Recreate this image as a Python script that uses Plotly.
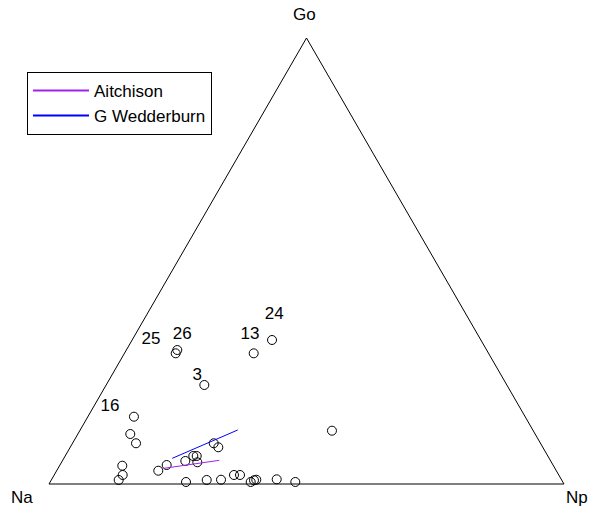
import plotly.graph_objects as go

# Compositions (Go, Na, Np)
go_vals = [0.3229, 0.2930, 0.3004, 0.2930, 0.2220, 0.1509, 0.1121, 0.0913, 0.0913, 0.0823,
           0.0628, 0.0628, 0.0487, 0.0516, 0.0426, 0.0298, 0.0410, 0.0202, 0.0090, 0.0045,
           0.0090, 0.0096, 0.0202, 0.0202, 0.0045, 0.0083, 0.0096, 0.0105, 0.0045, 0.1195]
np_vals = [0.2716, 0.2510, 0.0989, 0.0995, 0.1906, 0.0895, 0.1018, 0.1233, 0.2742, 0.2876,
           0.2488, 0.2554, 0.2637, 0.2389, 0.2072, 0.1973, 0.1218, 0.1330, 0.1308, 0.2638,
           0.3017, 0.3292, 0.3491, 0.3608, 0.3894, 0.3939, 0.3977, 0.4369, 0.4760, 0.4897]
na_vals = [round(1 - g - n, 4) for g, n in zip(go_vals, np_vals)]

# Point labels
label_text = ["24", "13", "26", "25", "3", "16"]
label_go = [0.3789, 0.3341, 0.3341, 0.3229, 0.2422, 0.1733]
label_np = [0.2480, 0.2233, 0.0918, 0.0367, 0.1669, 0.0318]
label_na = [round(1 - g - n, 4) for g, n in zip(label_go, label_np)]

# Fitted lines
aitchison_go = [0.0352, 0.0531]
aitchison_np = [0.2057, 0.3041]
aitchison_na = [round(1 - g - n, 4) for g, n in zip(aitchison_go, aitchison_np)]

wedd_go = [0.0576, 0.1211]
wedd_np = [0.2106, 0.3059]
wedd_na = [round(1 - g - n, 4) for g, n in zip(wedd_go, wedd_np)]

series_names = ["Aitchison", "G Wedderburn"]
series_colors = ["#A020F0", "#0000FF"]

FONT = "Liberation Sans, Arial, sans-serif"
FS = 17

fig = go.Figure()
fig.add_trace(go.Scatterternary(
    a=go_vals, b=na_vals, c=np_vals, mode="markers",
    marker=dict(symbol="circle-open", size=9, color="black", line=dict(width=1)),
    showlegend=False, cliponaxis=False))
fig.add_trace(go.Scatterternary(
    a=label_go, b=label_na, c=label_np, mode="text", text=label_text,
    textposition="middle center", textfont=dict(family=FONT, size=FS, color="black"),
    showlegend=False, cliponaxis=False))
for (ga, na, npv), name, col in zip(
        [(aitchison_go, aitchison_na, aitchison_np), (wedd_go, wedd_na, wedd_np)],
        series_names, series_colors):
    fig.add_trace(go.Scatterternary(
        a=ga, b=na, c=npv, mode="lines", line=dict(color=col, width=1),
        name=name, legendgroup=name, showlegend=False))
    # legend entry (thicker sample line, as in the reference legend)
    fig.add_trace(go.Scatterternary(
        a=[None], b=[None], c=[None], mode="lines", line=dict(color=col, width=2),
        name=name, legendgroup=name, showlegend=True))

axis_style = dict(showgrid=False, showticklabels=False, ticks="", linecolor="black",
                  linewidth=1, title=dict(text=""), min=0)

fig.update_layout(
    width=603, height=510,
    margin=dict(l=49, r=39, t=38, b=26),
    paper_bgcolor="white",
    font=dict(family=FONT, size=FS, color="black"),
    ternary=dict(sum=1, bgcolor="white",
                 aaxis=axis_style, baxis=axis_style, caxis=axis_style),
    legend=dict(x=-0.0427, y=0.924, xanchor="left", yanchor="top",
                bordercolor="black", borderwidth=1, bgcolor="white",
                font=dict(family=FONT, size=FS), tracegroupgap=0,
                itemwidth=56),
    annotations=[
        dict(text="Go", x=0.497, y=1.052, xref="paper", yref="paper", showarrow=False,
             xanchor="center", yanchor="middle", font=dict(family=FONT, size=FS)),
        dict(text="Na", x=-0.052, y=-0.031, xref="paper", yref="paper", showarrow=False,
             xanchor="center", yanchor="middle", font=dict(family=FONT, size=FS)),
        dict(text="Np", x=1.025, y=-0.031, xref="paper", yref="paper", showarrow=False,
             xanchor="center", yanchor="middle", font=dict(family=FONT, size=FS)),
    ],
)

fig.write_html("out.html", config={"displayModeBar": False},
               post_script="document.body.style.margin='0';")
